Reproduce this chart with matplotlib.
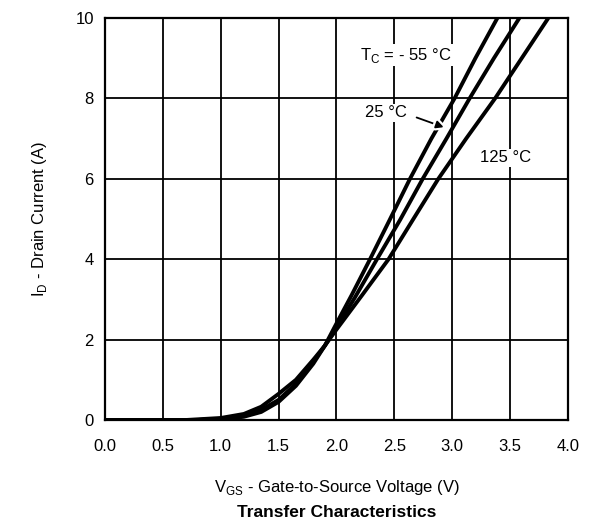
import numpy as np
import matplotlib
matplotlib.use('Agg')
import matplotlib.pyplot as plt
import matplotlib.patheffects as pe

plt.rcParams['font.family'] = ['Liberation Sans', 'DejaVu Sans']

# transfer curves
vgs_m55 = [0.0, 0.8, 1.0, 1.2, 1.35, 1.5, 1.65, 1.8, 1.9, 2.0, 2.13, 2.29, 2.46, 2.635, 2.82, 3.02, 3.2, 3.39]
id_m55 = [0.0, 0.0, 0.02, 0.08, 0.2, 0.45, 0.85, 1.4, 1.85, 2.4, 3.1, 4.0, 4.98, 6.0, 7.0, 8.0, 9.0, 10.0]

vgs_25 = [0.0, 0.8, 1.0, 1.2, 1.35, 1.5, 1.65, 1.8, 1.9, 2.0, 2.16, 2.35, 2.55, 2.745, 2.95, 3.15, 3.36, 3.58]
id_25 = [0.0, 0.0, 0.03, 0.1, 0.25, 0.5, 0.9, 1.45, 1.85, 2.3, 3.05, 4.0, 4.98, 6.0, 7.0, 8.0, 9.0, 10.0]

vgs_125 = [0.0, 0.7, 1.0, 1.2, 1.35, 1.5, 1.65, 1.8, 1.9, 2.0, 2.22, 2.45, 2.66, 2.88, 3.12, 3.37, 3.6, 3.83]
id_125 = [0.0, 0.0, 0.05, 0.15, 0.33, 0.65, 1.0, 1.5, 1.85, 2.25, 3.1, 4.0, 4.98, 6.0, 7.0, 8.0, 9.0, 10.0]

xticks = [0.0, 0.5, 1.0, 1.5, 2.0, 2.5, 3.0, 3.5, 4.0]
yticks = [0, 2, 4, 6, 8, 10]

fig = plt.figure(figsize=(5.96, 5.22), dpi=100)
ax = fig.add_axes([0.176, 0.1954, 0.777, 0.770])

for v, i in [(vgs_125, id_125), (vgs_25, id_25), (vgs_m55, id_m55)]:
    ax.plot(v, i, color='black', lw=2.8, solid_capstyle='butt', solid_joinstyle='round', zorder=3)

ax.set_xlim(0, 4)
ax.set_ylim(0, 10)
ax.set_xticks(xticks)
ax.set_xticklabels(['%.1f' % t for t in xticks])
ax.set_yticks(yticks)
ax.tick_params(length=0, labelsize=12)
ax.tick_params(axis='x', pad=14)
ax.tick_params(axis='y', pad=8)
ax.grid(True, color='black', lw=1.3)
for s in ax.spines.values():
    s.set_linewidth(1.6)

fig.text(0.5 * (0.176 + 0.953), 0.067, 'V$_{\\mathregular{GS}}$ - Gate-to-Source Voltage (V)',
         ha='center', va='center', fontsize=12)
fig.text(0.067, 0.5806, 'I$_{\\mathregular{D}}$ - Drain Current (A)', rotation=90,
         ha='center', va='center', fontsize=12)
fig.text(0.5 * (0.176 + 0.953), 0.019, 'Transfer Characteristics', ha='center', va='center',
         fontsize=12.5, fontweight='bold')

box = dict(facecolor='white', edgecolor='none', pad=1)
ax.text(2.6, 9.08, 'T$_{\\mathregular{C}}$ = - 55 °C', ha='center', va='center',
        fontsize=12, bbox=box, zorder=4)
ax.text(2.43, 7.64, '25 °C', ha='center', va='center', fontsize=12, bbox=box, zorder=4)
ax.text(3.46, 6.52, '125 °C', ha='center', va='center', fontsize=12, bbox=box, zorder=4)
ax.annotate('', xy=(2.95, 7.26), xytext=(2.67, 7.55),
            arrowprops=dict(arrowstyle='-|>', color='black', lw=1.3, mutation_scale=11,
                            path_effects=[pe.Stroke(linewidth=4.5, foreground='white'), pe.Normal()]),
            zorder=5)

fig.savefig('out.png', dpi=100)
